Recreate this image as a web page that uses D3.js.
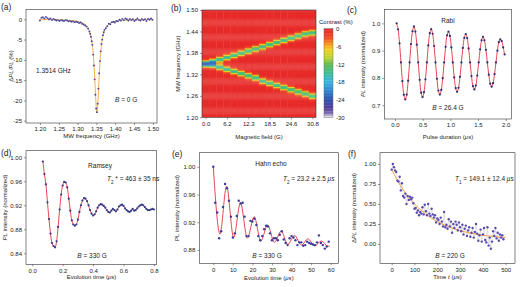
<!DOCTYPE html>
<html>
<head>
<meta charset="utf-8">
<script src="https://cdn.jsdelivr.net/npm/d3@7"></script>
<style>
body{margin:0;background:#fff;}
svg text{font-family:"Liberation Sans",Arial,sans-serif;fill:#222;}
.axis text{font-size:6px;}
.axis line{stroke:#333;stroke-width:0.5;}
</style>
</head>
<body>
<script>
// (a) ODMR spectrum at B = 0
const aFreq = [1.200,1.204,1.208,1.212,1.216,1.220,1.224,1.228,1.232,1.236,1.240,1.244,1.248,1.252,1.256,1.260,1.264,1.268,1.272,1.276,1.280,1.284,1.288,1.292,1.296,1.300,1.304,1.308,1.312,1.316,1.320,1.324,1.328,
  1.3314,1.3334,1.3354,1.3374,1.3394,1.3414,1.3434,1.3454,1.3474,1.3494,1.3514,1.3534,1.3554,1.3574,1.3594,1.3614,1.3634,1.3654,1.3674,1.3694,1.3714,
  1.375,1.379,1.383,1.387,1.391,1.395,1.399,1.403,1.407,1.411,1.415,1.419,1.423,1.427,1.431,1.435,1.439,1.443,1.447,1.451,1.455,1.459,1.463,1.467,1.471,1.475,1.479,1.483,1.487,1.491,1.495,1.499];
const aSignal = [-0.3,0.4,0.5,0.2,0.6,0.3,0.0,0.2,-0.2,0.1,-0.1,-0.3,-0.2,-0.4,-0.2,-0.3,-0.4,-0.2,-0.3,-0.5,-0.4,-0.6,-0.5,-0.7,-0.6,-0.7,-0.9,-0.8,-1.1,-1.3,-1.5,-1.8,-2.3,
  -3.0,-3.6,-4.3,-5.4,-6.3,-8.7,-11.4,-14.8,-18.6,-22.0,-22.9,-20.8,-17.1,-13.3,-10.3,-7.9,-6.1,-5.0,-3.9,-3.2,-2.6,
  -2.2,-1.7,-1.1,-1.2,-0.7,-0.6,-0.8,-0.4,-0.5,-0.1,-0.3,0.1,-0.2,0.2,0.0,-0.3,0.1,-0.2,0.0,-0.4,-0.1,0.2,-0.2,-0.3,0.1,-0.2,0.0,-0.4,0.1,-0.1,0.2,-0.1];
const aFitFreq = [1.20,1.25,1.28,1.30,1.31,1.32,1.325,1.33,1.335,1.34,1.343,1.345,1.347,1.349,1.3504,1.3514,1.3524,1.3534,1.3554,1.3574,1.3594,1.3624,1.3674,1.3724,1.3774,1.3814,1.39,1.40,1.42,1.45,1.50];
const aFitVal = [-0.06,-0.13,-0.25,-0.48,-0.73,-1.24,-1.72,-2.52,-3.98,-6.95,-10.2,-13.31,-17.11,-20.86,-22.6,-23.0,-22.6,-21.47,-17.91,-14.02,-10.76,-7.30,-4.14,-2.60,-1.77,-1.35,-0.84,-0.54,-0.27,-0.13,-0.06];

// (b) ODMR map vs magnetic field
const fieldCols = [0.0,2.05,4.11,6.16,8.21,10.27,12.32,14.37,16.43,18.48,20.53,22.59,24.64,26.69,28.75,30.8];
const fieldTickLabels = ['0.0','6.2','12.3','18.5','24.6','30.8'];
const upperBranch = [1.351,1.356,1.362,1.368,1.374,1.380,1.386,1.392,1.398,1.404,1.410,1.415,1.421,1.427,1.433,1.438];
const lowerBranch = [1.351,1.346,1.340,1.334,1.328,1.322,1.316,1.310,1.303,1.297,1.291,1.285,1.279,1.273,1.267,1.260];
const bandDepth = [-13,-17,-16,-15.5,-15,-15,-15,-15,-15,-15,-15,-15,-15,-15,-15,-15];
const lineProfile = [1,0.82,0.5,0.22,0.08,0.03];
const contrastTicks = [0,-6,-12,-18,-24,-30];

// (c) Rabi
const rabiT = [0.030,0.056,0.082,0.108,0.134,0.160,0.186,0.212,0.238,0.264,0.290,0.316,0.342,0.368,0.394,0.420,0.446,0.472,0.498,0.524,0.550,0.576,0.602,0.628,0.654,0.680,0.706,0.732,0.758,0.784,0.810,0.836,0.862,0.888,0.914,0.940,0.966,0.992,1.018,1.044,1.070,1.096,1.122,1.148,1.174,1.200,1.226,1.252,1.278,1.304,1.330,1.356,1.382,1.408,1.434,1.460,1.486,1.512,1.538,1.564,1.590,1.616,1.642,1.668,1.694,1.720,1.746,1.772,1.798,1.824,1.850,1.876,1.902,1.928,1.954,1.980];
const rabiI = [1.000,0.978,0.927,0.857,0.788,0.738,0.721,0.739,0.790,0.857,0.924,0.971,0.989,0.970,0.922,0.857,0.793,0.746,0.730,0.748,0.795,0.857,0.919,0.964,0.979,0.962,0.917,0.857,0.797,0.754,0.739,0.756,0.799,0.857,0.914,0.956,0.970,0.954,0.912,0.857,0.802,0.763,0.749,0.764,0.804,0.857,0.910,0.947,0.961,0.946,0.908,0.857,0.807,0.770,0.758,0.772,0.809,0.857,0.905,0.938,0.951,0.938,0.903,0.857,0.812,0.779,0.768,0.781,0.814,0.857,0.900,0.931,0.941,0.935,0.912,0.886];

// (d) Ramsey
const ramseyT = [0.07,0.08,0.09,0.10,0.11,0.12,0.13,0.14,0.15,0.16,0.17,0.18,0.19,0.20,0.21,0.22,0.23,0.24,0.25,0.26,0.27,0.28,0.29,0.30,0.31,0.32,0.33,0.34,0.35,0.36,0.37,0.38,0.39,0.40,0.41,0.42,0.43,0.44,0.45,0.46,0.47,0.48,0.49,0.50,0.51,0.52,0.53,0.54,0.55,0.56,0.57,0.58,0.59,0.60,0.61,0.62,0.63,0.64,0.65,0.66,0.67,0.68,0.69,0.70,0.71,0.72,0.73,0.74,0.75,0.76,0.77,0.78,0.79,0.80];
const ramseyI = [0.993,0.972,0.955,0.925,0.897,0.873,0.857,0.852,0.850,0.860,0.884,0.913,0.938,0.953,0.959,0.958,0.950,0.931,0.911,0.895,0.888,0.886,0.888,0.896,0.909,0.920,0.928,0.932,0.931,0.927,0.920,0.912,0.906,0.903,0.905,0.910,0.916,0.920,0.922,0.921,0.919,0.916,0.912,0.909,0.908,0.911,0.914,0.912,0.910,0.913,0.918,0.920,0.921,0.919,0.915,0.912,0.910,0.909,0.911,0.914,0.911,0.912,0.915,0.918,0.920,0.921,0.920,0.917,0.914,0.912,0.912,0.913,0.914,0.913];

// (e) Hahn echo
const hahnT = [0,1,2,3,4,5,6,7,8,9,10,11,12,13,14,15,16,17,18,19,20,21,22,23,24,25,26,27,28,29,30,31,32,33,34,35,36,37,38,39,40,41,42,43,44,45,46,47,48,49,50,51,52,53,54,55,56,57,58,59];
const hahnI = [1.000,0.948,0.934,0.897,0.907,0.942,0.975,0.969,0.951,0.928,0.898,0.904,0.929,0.951,0.947,0.948,0.928,0.900,0.900,0.922,0.921,0.925,0.916,0.900,0.894,0.900,0.910,0.915,0.914,0.904,0.894,0.897,0.897,0.894,0.902,0.907,0.895,0.890,0.887,0.897,0.900,0.898,0.894,0.887,0.891,0.891,0.886,0.887,0.892,0.890,0.889,0.888,0.887,0.891,0.901,0.890,0.887,0.882,0.885,0.892];
const hahnFitT = [0,3.4,6.8,10.4,13.9,17.4,20.9,24.3,27.8,31.2,34.7,38.1,41.5,45,48.4,51.8,55.3,58.7,59.5];
const hahnFitI = [1.000,0.903,0.972,0.898,0.948,0.897,0.928,0.893,0.916,0.891,0.907,0.888,0.901,0.887,0.896,0.886,0.893,0.885,0.886];

// (f) T1 relaxation
const t1T = [0,5,10,15,20,25,30,35,40,45,50,55,60,65,70,75,80,85,90,95,100,105,110,115,120,125,130,135,140,145,150,155,160,165,170,175,180,185,190,195,200,205,210,215,220,225,230,235,240,245,250,255,260,265,270,275,280,285,290,295,300,305,310,315,320,325,330,335,340,345,350,355,360,365,370,375,380,385,390,395,400,405,410,415,420,425,430,435,440,445,450,455,460,465,470,475,480,485,490];
const t1I = [0.93,1.00,0.96,0.92,0.90,0.79,0.78,0.84,0.67,0.76,0.60,0.58,0.63,0.50,0.60,0.55,0.59,0.56,0.58,0.51,0.44,0.45,0.39,0.42,0.36,0.40,0.38,0.46,0.37,0.49,0.41,0.36,0.50,0.38,0.35,0.44,0.37,0.33,0.36,0.27,0.32,0.30,0.25,0.33,0.28,0.22,0.40,0.21,0.24,0.19,0.31,0.22,0.28,0.14,0.25,0.20,0.28,0.24,0.17,0.27,0.21,0.16,0.24,0.12,0.19,0.23,0.10,0.17,0.21,0.09,0.14,0.20,0.08,0.15,0.25,0.13,0.04,0.11,0.18,0.03,0.12,0.20,0.05,0.02,0.21,-0.02,0.08,-0.06,0.03,0.16,0.10,0.20,0.07,0.14,0.04,0.12,0.08,0.11,0.06];
const t1FitT = [0,25,50,75,100,125,150,175,200,225,250,275,300,325,350,375,400,425,450,475,500];
const t1FitI = [0.93,0.795,0.679,0.582,0.50,0.43,0.371,0.322,0.28,0.245,0.215,0.189,0.168,0.149,0.134,0.121,0.11,0.101,0.093,0.086,0.081];

const RED = '#e3323f', ORANGE = '#f4a340';

const svg = d3.select('body').append('svg').attr('width',520).attr('height',287);
const defs = svg.append('defs');
let clipCount = 0;

function txt(x, y, parts, o = {}){
  const size = o.size || 6;
  const t = svg.append('text').attr('x',x).attr('y',y).attr('font-size',size)
    .attr('text-anchor',o.anchor || 'start');
  if (o.rot) t.attr('transform',`rotate(-90,${x},${y})`);
  [].concat(parts).forEach(p => {
    if (typeof p === 'string') p = {t:p};
    const s = t.append('tspan').text(p.t);
    if (p.i) s.attr('font-style','italic');
    if (p.sub) s.attr('baseline-shift','sub').attr('font-size',size*0.7);
  });
  return t;
}

function panel(p){
  const x = d3.scaleLinear().domain(p.xd).range([p.x0,p.x1]);
  const y = d3.scaleLinear().domain(p.yd).range([p.y1,p.y0]);
  svg.append('g').attr('class','axis').attr('transform',`translate(0,${p.y1})`)
    .call(d3.axisBottom(x).tickValues(p.xt).tickFormat(p.xf).tickSize(2).tickPadding(2).tickSizeOuter(0))
    .call(g => g.select('.domain').remove());
  svg.append('g').attr('class','axis').attr('transform',`translate(${p.x0},0)`)
    .call(d3.axisLeft(y).tickValues(p.yt).tickFormat(p.yf).tickSize(2).tickPadding(2).tickSizeOuter(0))
    .call(g => g.select('.domain').remove());
  const id = 'clip' + (clipCount++);
  defs.append('clipPath').attr('id',id).append('rect')
    .attr('x',p.x0).attr('y',p.y0).attr('width',p.x1-p.x0).attr('height',p.y1-p.y0);
  const g = svg.append('g').attr('clip-path',`url(#${id})`);
  svg.append('rect').attr('x',p.x0).attr('y',p.y0).attr('width',p.x1-p.x0).attr('height',p.y1-p.y0)
    .attr('fill','none').attr('stroke','#333').attr('stroke-width',0.6);
  return {x, y, g};
}

function dots(P, xs, ys, r, color){
  P.g.selectAll(null).data(xs).join('circle')
    .attr('cx',(d)=>P.x(d)).attr('cy',(d,i)=>P.y(ys[i])).attr('r',r).attr('fill',color);
}
function curve(P, xs, ys, color, c, w){
  P.g.append('path').datum(xs.map((d,i)=>[d,ys[i]]))
    .attr('d',d3.line().x(d=>P.x(d[0])).y(d=>P.y(d[1])).curve(c))
    .attr('fill','none').attr('stroke',color).attr('stroke-width',w||0.9);
}

// ---------- (a)
const A = panel({x0:26,x1:157,y0:9.5,y1:123,xd:[1.163,1.511],yd:[-25.57,2.42],
  xt:[1.20,1.25,1.30,1.35,1.40,1.45,1.50],xf:d3.format('.2f'),
  yt:[0,-5,-10,-15,-20,-25],yf:d=>String(d)});
curve(A, aFitFreq, aFitVal, ORANGE, d3.curveMonotoneX);
dots(A, aFreq, aSignal, 0.95, '#45459c');
txt(36,73,'1.3514 GHz',{size:6.5});
txt(115,102,[{t:'B',i:true},' = 0 G'],{size:6.5});
txt(13,66,[{t:'Δ'},{t:'PL/PL',i:true},' (%)'],{rot:true,anchor:'middle'});
txt(91.5,138,'MW frequency (GHz)',{anchor:'middle'});
txt(1,10,'(a)',{size:8.5});

// ---------- (b)
const dField = fieldCols[1]-fieldCols[0];
const B = panel({x0:202,x1:316,y0:10,y1:117.3,xd:[fieldCols[0]-dField/2,fieldCols[15]+dField/2],yd:[1.20,1.50],
  xt:[0,3,6,9,12,15].map(i=>fieldCols[i]),xf:(d,i)=>fieldTickLabels[i],
  yt:[1.20,1.26,1.32,1.38,1.44,1.50],yf:d3.format('.2f')});
const color = d3.scaleLinear()
  .domain([0,-3,-5,-7,-10,-12,-15,-18,-21,-24,-27,-29,-30])
  .range(['#e6272a','#ee4a22','#f5901e','#f3cf22','#b8d435','#62bb4a','#3cbf96','#36b5e4','#2e86d0','#2b50b0','#573c9c','#8a7cb8','#ffffff'])
  .clamp(true);
const freqStep = 0.003;
const freqRows = d3.range(101).map(i => 1.20 + i*freqStep);
function profileAt(off){
  const k = Math.round(Math.abs(off)/freqStep);
  return k < lineProfile.length ? lineProfile[k] : 0;
}
const cells = [];
fieldCols.forEach((fc,ci) => freqRows.forEach(fr => {
  const v = bandDepth[ci]*(profileAt(fr-upperBranch[ci]) + profileAt(fr-lowerBranch[ci]));
  cells.push({fc, fr, v: Math.max(-30, v - 0.3)});
}));
B.g.selectAll(null).data(cells).join('rect')
  .attr('x',d=>B.x(d.fc-dField/2)).attr('width',B.x(dField)-B.x(0)+0.3)
  .attr('y',d=>B.y(d.fr+freqStep/2)).attr('height',B.y(0)-B.y(freqStep)+0.3)
  .attr('fill',d=>color(d.v));
txt(180,63.6,'MW frequency (GHz)',{rot:true,anchor:'middle'});
txt(259,139,'Magnetic field (G)',{anchor:'middle'});
txt(171,11,'(b)',{size:8.5});
// colour bar
const cb = d3.scaleLinear().domain([0,-30]).range([28.7,117.3]);
const cbSteps = d3.range(0,-30,-0.5);
svg.append('g').selectAll('rect').data(cbSteps).join('rect')
  .attr('x',324).attr('width',9).attr('y',d=>cb(d)).attr('height',cb(-0.5)-cb(0)+0.3)
  .attr('fill',d=>color(d-0.25));
svg.append('rect').attr('x',324).attr('y',28.7).attr('width',9).attr('height',117.3-28.7)
  .attr('fill','none').attr('stroke','#555').attr('stroke-width',0.4);
svg.append('g').attr('class','axis').attr('transform','translate(333,0)')
  .call(d3.axisRight(cb).tickValues(contrastTicks).tickFormat(d=>String(d)).tickSize(0).tickPadding(3))
  .call(g => g.select('.domain').remove());
txt(319,24,'Contrast (%)');

// ---------- (c)
const C = panel({x0:384.3,x1:511.7,y0:9.3,y1:119,xd:[-0.193,2.108],yd:[0.6496,1.0515],
  xt:[0,0.5,1.0,1.5,2.0],xf:d3.format('.1f'),yt:[0.7,0.8,0.9,1.0],yf:d3.format('.1f')});
curve(C, rabiT, rabiI, RED, d3.curveCatmullRom);
dots(C, rabiT, rabiI, 1.1, '#2b2f70');
txt(448,22.5,'Rabi',{anchor:'middle',size:6.5});
txt(448,109.5,[{t:'B',i:true},' = 26.4 G'],{anchor:'middle',size:6.5});
txt(365,64,[{t:'PL',i:true},' intensity (normalized)'],{rot:true,anchor:'middle'});
txt(448,139,['Pulse duration (',{t:'μs',i:true},')'],{anchor:'middle'});
txt(347,13,'(c)',{size:8.5});

// ---------- (d)
const D = panel({x0:26,x1:156.7,y0:150.7,y1:264.3,xd:[-0.041,0.818],yd:[0.8217,1.011],
  xt:[0,0.2,0.4,0.6,0.8],xf:d3.format('.1f'),yt:[0.84,0.88,0.92,0.96,1.00],yf:d3.format('.2f')});
curve(D, ramseyT, ramseyI, RED, d3.curveCatmullRom);
dots(D, ramseyT, ramseyI, 1.1, '#2f3a8a');
txt(100,168,'Ramsey',{anchor:'middle',size:6.5});
txt(107,180.5,[{t:'T',i:true},{t:'2',sub:true},' * = 463 ± 35 ns'],{size:6.5});
txt(92,258,[{t:'B',i:true},' = 330 G'],{anchor:'middle',size:6.5});
txt(7,207.5,[{t:'PL',i:true},' intensity (normalized)'],{rot:true,anchor:'middle'});
txt(91.5,279,['Evolution time (',{t:'μs',i:true},')'],{anchor:'middle'});
txt(1,156,'(d)',{size:8.5});

// ---------- (e)
const E = panel({x0:199.3,x1:338.3,y0:152.7,y1:263.3,xd:[-7.15,63.9],yd:[0.8608,1.0202],
  xt:[0,10,20,30,40,50,60],xf:d3.format('d'),yt:[0.88,0.92,0.96,1.00],yf:d3.format('.2f')});
curve(E, hahnFitT, hahnFitI, RED, d3.curveMonotoneX);
dots(E, hahnT, hahnI, 1.2, '#3a3a9a');
txt(271,166,'Hahn echo',{anchor:'middle',size:6.5});
txt(283,181,[{t:'T',i:true},{t:'2',sub:true},' = 23.2 ± 2.5 ',{t:'μs',i:true}],{size:6.5});
txt(267,258,[{t:'B',i:true},' = 330 G'],{anchor:'middle',size:6.5});
txt(179.3,208,'PL intensity (normalized)',{rot:true,anchor:'middle'});
txt(268.8,280,['Evolution time (',{t:'μs',i:true},')'],{anchor:'middle'});
txt(172,157,'(e)',{size:8.5});

// ---------- (f)
const F = panel({x0:380,x1:515,y0:152.7,y1:263.3,xd:[-51.3,540.8],yd:[-0.241,1.141],
  xt:[0,100,200,300,400,500],xf:d3.format('d'),yt:[0,0.25,0.5,0.75,1.0],yf:d3.format('.2f')});
curve(F, t1T, t1I, '#b8b8b8', d3.curveLinear, 0.4);
curve(F, t1FitT, t1FitI, ORANGE, d3.curveMonotoneX, 1);
dots(F, t1T, t1I, 1.2, '#5a4bb0');
txt(455,181,[{t:'T',i:true},{t:'1',sub:true},' = 149.1 ± 12.4 ',{t:'μs',i:true}],{size:6.5});
txt(450,258,[{t:'B',i:true},' = 220 G'],{anchor:'middle',size:6.5});
txt(356,208,[{t:'Δ'},{t:'PL',i:true},' intensity (normalized)'],{rot:true,anchor:'middle'});
txt(447.5,279,['Time ',{t:'t',i:true},' (',{t:'μs',i:true},')'],{anchor:'middle'});
txt(348,157,'(f)',{size:8.5});
</script>
</body>
</html>
